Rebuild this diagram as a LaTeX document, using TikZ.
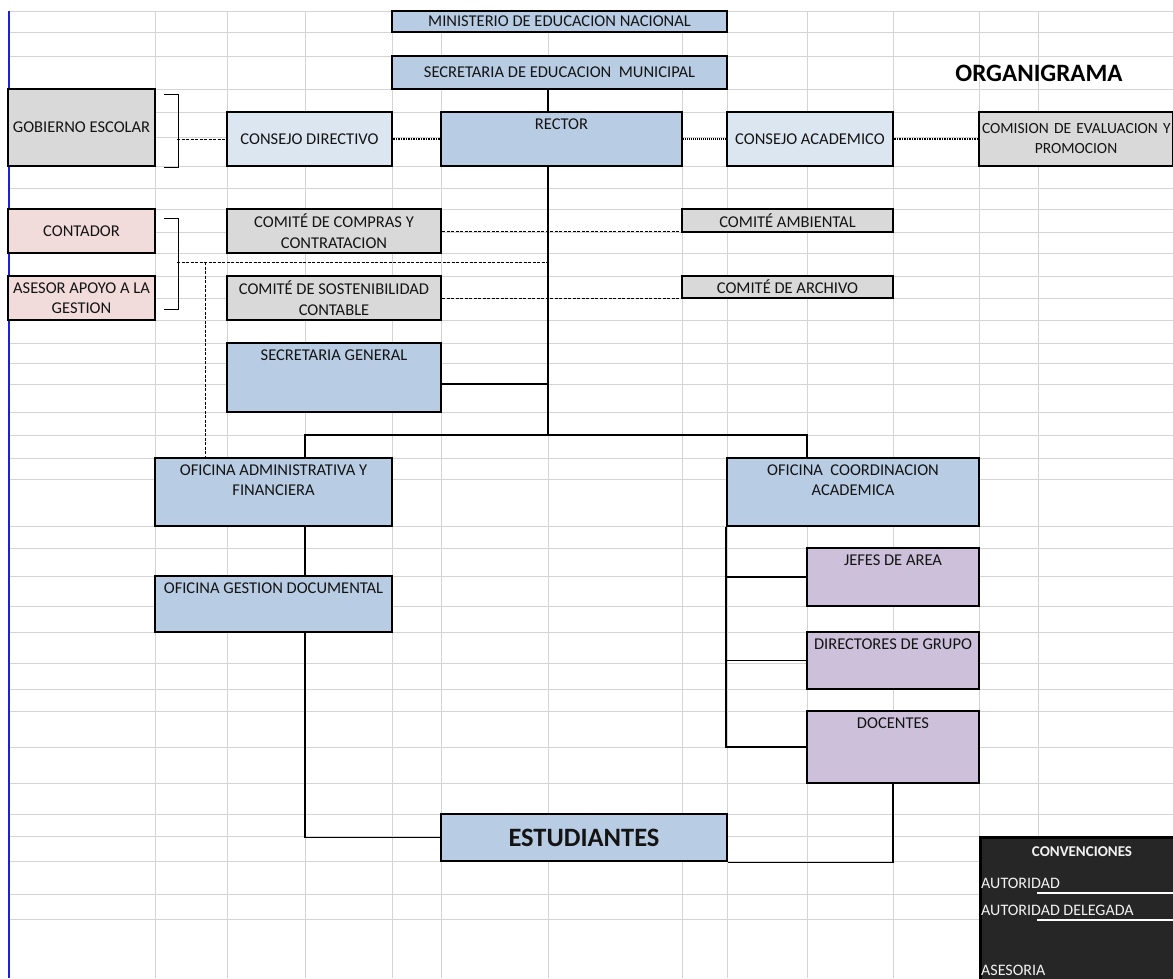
\documentclass[tikz,border=0pt]{standalone}
\usepackage{fontspec}
\setmainfont{Carlito}
\usepackage{tikz}
\usetikzlibrary{calc}
\definecolor{azul}{HTML}{B8CCE4}
\definecolor{celeste}{HTML}{DCE6F1}
\definecolor{gris}{HTML}{D9D9D9}
\definecolor{rosa}{HTML}{F2DCDB}
\definecolor{lila}{HTML}{CCC0DA}
\definecolor{panel}{HTML}{262626}
\definecolor{rejilla}{HTML}{D4D4D4}
\definecolor{borde}{HTML}{1F1FD6}
\definecolor{tinta}{HTML}{141414}

\begin{document}
\begin{tikzpicture}[x=1pt, y=-1pt,
  caja/.style={draw, line width=2.5pt, inner sep=1pt, align=center, text=tinta,
    font=\fontsize{16.5}{20.5}\selectfont},
  arriba/.style={label={[anchor=north, inner sep=0pt, yshift=-7.5pt, align=center,
    text=tinta, font=\fontsize{16.5}{20.5}\selectfont]north:#1}},
  linea/.style={line width=1.5pt},
  tronco/.style={line width=2.2pt},
  llave/.style={line width=1pt},
  asesoria/.style={line width=0.8pt, dash pattern=on 3pt off 1.5pt},
  delegada/.style={line width=2.2pt, dash pattern=on 1.5pt off 1pt},
  punteada/.style={line width=2pt, dash pattern=on 1pt off 1pt},
  leyenda/.style={text=white!95!black, font=\fontsize{16}{19}\selectfont,
    anchor=base west, inner sep=0pt}]

  \useasboundingbox (0,0) rectangle (1173,978);
  \clip (0,0) rectangle (1173,978);
  \fill[white] (0,0) rectangle (1173,978);

  % cuadricula de la hoja
  \foreach \gx in {155,227,305,392,441,548,682,727,807,893,979,1038}
    \draw[rejilla, line width=1pt] (\gx,11) -- (\gx,978);
  \foreach \gy in {11,32,56,89,112,137,166,188,209,232,253,276,298,320,343,363,384,412,
      435,458,479,526,548,576,606,632,663,689,711,747,783,814,836,861,894,919}
    \draw[rejilla, line width=1pt] (8,\gy) -- (1173,\gy);
  \draw[borde, line width=2pt] (8.5,11) -- (8.5,978);

  \node[font=\fontsize{25}{30}\selectfont\bfseries, anchor=base] (titulo) at (1039,81) {ORGANIGRAMA};

  % nivel directivo
  \node[caja, fill=azul, minimum width=335pt, minimum height=21pt] (min) at (559.5,21.5) {MINISTERIO DE EDUCACION NACIONAL};
  \node[caja, fill=azul, minimum width=335pt, minimum height=33pt] (sem) at (559.5,72.5) {SECRETARIA DE EDUCACION\ \ MUNICIPAL};
  \node[caja, fill=azul, minimum width=241pt, minimum height=54pt, arriba=RECTOR] (rector) at (561.5,139) {};
  \node[caja, fill=celeste, minimum width=165pt, minimum height=54pt] (cdir) at (309.5,139) {CONSEJO DIRECTIVO};
  \node[caja, fill=celeste, minimum width=166pt, minimum height=54pt] (cacad) at (810,139) {CONSEJO ACADEMICO};
  \node[caja, fill=gris, minimum width=147pt, minimum height=77pt] (gob) at (81.5,127.5) {GOBIERNO ESCOLAR};
  \node[caja, fill=gris, minimum width=194pt, minimum height=54pt, text width=188pt,
    font=\fontsize{15.5}{20}\selectfont] (comis) at (1076,139) {\mbox{COMISION DE EVALUACION Y}\\PROMOCION};

  % asesores y comites
  \node[caja, fill=rosa, minimum width=147pt, minimum height=44pt] (contador) at (81.5,231) {CONTADOR};
  \node[caja, fill=rosa, minimum width=147pt, minimum height=44pt] (asesor) at (81.5,298) {ASESOR APOYO A LA\\GESTION};
  \node[caja, fill=gris, minimum width=214pt, minimum height=44pt] (compras) at (334,231) {COMITÉ DE COMPRAS Y\\CONTRATACION};
  \node[caja, fill=gris, minimum width=214pt, minimum height=44pt] (sosten) at (334,298) {COMITÉ DE SOSTENIBILIDAD\\CONTABLE};
  \node[caja, fill=gris, minimum width=211pt, minimum height=23pt] (ambiental) at (787.5,220.5) {COMITÉ AMBIENTAL};
  \node[caja, fill=gris, minimum width=211pt, minimum height=22pt] (archivo) at (787.5,287) {COMITÉ DE ARCHIVO};

  % oficinas
  \node[caja, fill=azul, minimum width=214pt, minimum height=69pt, arriba={SECRETARIA GENERAL}] (secgen) at (334,377.5) {};
  \node[caja, fill=azul, minimum width=237pt, minimum height=68pt, arriba={OFICINA ADMINISTRATIVA Y\\FINANCIERA}] (ofadm) at (273.5,492) {};
  \node[caja, fill=azul, minimum width=237pt, minimum height=56pt, arriba={OFICINA GESTION DOCUMENTAL}] (ofgest) at (273.5,604) {};
  \node[caja, fill=azul, minimum width=252pt, minimum height=68pt, arriba={OFICINA\ \ COORDINACION\\ACADEMICA}] (ofcoord) at (853,492) {};
  \node[caja, fill=lila, minimum width=172pt, minimum height=58pt, arriba={JEFES DE AREA}] (jefes) at (893,577) {};
  \node[caja, fill=lila, minimum width=172pt, minimum height=57pt, arriba={DIRECTORES DE GRUPO}] (direct) at (893,660.5) {};
  \node[caja, fill=lila, minimum width=172pt, minimum height=72pt, arriba={DOCENTES}] (docentes) at (893,747) {};
  \node[caja, fill=azul, minimum width=286pt, minimum height=47pt, font=\fontsize{26.5}{30}\selectfont\bfseries] (estud) at (584,837.5) {ESTUDIANTES};

  % autoridad
  \coordinate (eje) at (548,435);
  \coordinate (ramaI) at (305,435);
  \coordinate (ramaD) at (807,435);
  \draw[tronco] (sem.south -| eje) -- (rector.north -| eje);
  \draw[tronco] (rector.south -| eje) -- (eje);
  \draw[linea] ([yshift=-6.5pt]secgen.east) -- ([yshift=-6.5pt]secgen.east -| eje);
  \draw[linea] (ofadm.north -| ramaI) -- (ramaI) -- (ramaD) -- (ofcoord.north -| ramaD);
  \draw[linea] (ofadm.south -| ramaI) -- (ofgest.north -| ramaI);
  \draw[linea] (ofgest.south -| ramaI) |- (estud.west);
  \draw[linea] (ofcoord.south west) |- (docentes.west);
  \draw[linea] (jefes.west) -- (jefes.west -| ofcoord.west);
  \draw[linea] (direct.west) -- (direct.west -| ofcoord.west);
  \draw[linea] (docentes.south) |- (estud.south east);

  % autoridad delegada y asesoria
  \draw[delegada] (cdir.east) -- (rector.west);
  \draw[punteada] (rector.east) -- (cacad.west);
  \draw[delegada] (cacad.east) -- (comis.west);
  \draw[llave] ([shift={(8,7)}]gob.north east) -| ([shift={(22,0)}]gob.south east) -- ([shift={(8,0)}]gob.south east);
  \coordinate (ll1) at (177,139);
  \draw[asesoria] (ll1) -- (cdir.west);
  \draw[llave] ([shift={(8,11)}]contador.north east) -| ([shift={(22,-12)}]asesor.south east) -- ([shift={(8,-12)}]asesor.south east);
  \coordinate (ll2) at (177,262);
  \coordinate (cruce) at (205,262);
  \draw[asesoria] (ll2) -- (ll2 -| eje);
  \draw[asesoria] (cruce) -- (cruce |- ofadm.north);
  \draw[asesoria] (compras.east) -- (compras.east -| ambiental.west);
  \draw[asesoria] (sosten.east) -- (sosten.east -| archivo.west);

  % convenciones
  \node[draw, line width=2.5pt, fill=panel, minimum width=200pt, minimum height=150pt, anchor=north west] (conv) at (979,836) {};
  \node[leyenda, anchor=base, font=\fontsize{15}{18}\selectfont\bfseries] (convtit) at (1082,856) {CONVENCIONES};
  \node[leyenda] (aut) at (981,888) {AUTORIDAD};
  \node[leyenda] (autdel) at (981,915) {AUTORIDAD DELEGADA};
  \node[leyenda] (ases) at (981,975) {ASESORIA};
  \coordinate (muestraA) at (1037,893);
  \coordinate (muestraB) at (1037,920);
  \draw[white, line width=1.5pt] (muestraA) -- (muestraA -| conv.east);
  \draw[white, line width=1.5pt] (muestraB) -- (muestraB -| conv.east);
\end{tikzpicture}
\end{document}
